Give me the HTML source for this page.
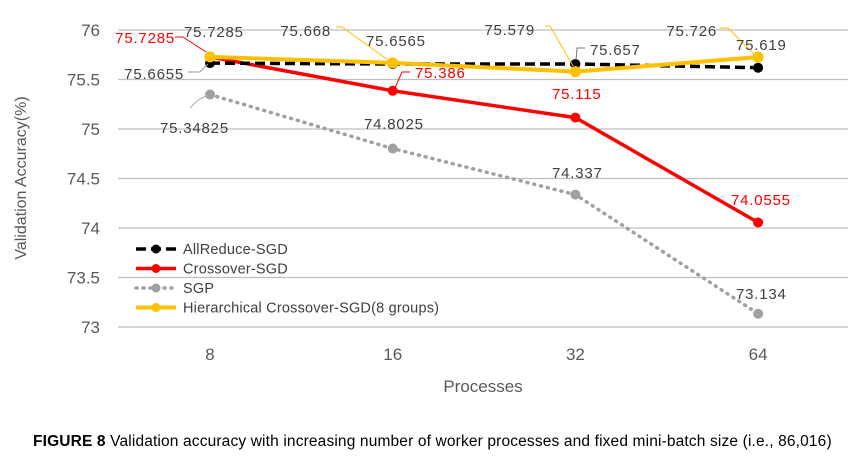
<!DOCTYPE html>
<html><head><meta charset="utf-8"><style>
body{margin:0;background:#fff;width:862px;height:469px;overflow:hidden;font-family:"Liberation Sans",sans-serif}
svg text{font-family:"Liberation Sans",sans-serif}
</style></head><body>
<svg id="chart" width="862" height="469" viewBox="0 0 862 469"></svg>
<script>
const categories=["8","16","32","64"];
const yTicks=[73,73.5,74,74.5,75,75.5,76];
const allReduce=[75.6655,75.6565,75.657,75.619];
const crossover=[75.7285,75.386,75.115,74.0555];
const sgp=[75.34825,74.8025,74.337,73.134];
const hier=[75.7285,75.668,75.579,75.726];
const allReduceLabels=["75.6655","75.6565","75.657","75.619"];
const crossoverLabels=["75.7285","75.386","75.115","74.0555"];
const sgpLabels=["75.34825","74.8025","74.337","73.134"];
const hierLabels=["75.7285","75.668","75.579","75.726"];

const NS="http://www.w3.org/2000/svg";
const svg=document.getElementById('chart');
function el(t,a,p){const e=document.createElementNS(NS,t);for(const k in a)e.setAttribute(k,a[k]);(p||svg).appendChild(e);return e;}
function x(i){return 210+i*182.7;}
function y(v){return 327-(v-73)*99;}

yTicks.forEach(v=>{
  const g=el('line',{x1:118,x2:848,y1:y(v),y2:y(v),stroke:'#bfbfbf','stroke-width':1.3});
  
  
  const t=el('text',{x:100,y:y(v)+6,'text-anchor':'end','font-size':17,fill:'#595959'});
  t.textContent=v;
  
  
});
categories.forEach((c,i)=>{
  const t=el('text',{x:x(i),y:360,'text-anchor':'middle','font-size':17,fill:'#595959'});
  t.textContent=c;
  
  
});
const yt=el('text',{transform:'translate(26,178) rotate(-90)','text-anchor':'middle','font-size':16,fill:'#595959'});
yt.textContent='Validation Accuracy(%)';


const xt=el('text',{x:483,y:392,'text-anchor':'middle','font-size':17,fill:'#595959'});
xt.textContent='Processes';



function series(vals,color,w,dash,r,name){
  const p=el('polyline',{points:vals.map((v,i)=>x(i)+','+y(v)).join(' '),fill:'none',stroke:color,'stroke-width':w,'stroke-dasharray':dash||'none','stroke-linecap':dash==='1 6'?'round':'butt'});
  
  
  vals.forEach((v,i)=>{
    const c=el('circle',{cx:x(i),cy:y(v),r:r,fill:color});
    
    
  });
}
series(sgp,'#a0a0a0',3.5,'1 6',5,'sgp');
series(crossover,'#ff0000',3.5,null,5,'crossover-sgd');
series(allReduce,'#000000',3.5,'10 5',5,'allreduce-sgd');
series(hier,'#ffc000',4,null,5.5,'hierarchical-crossover-sgd');

function label(txt,lx,ly,color,anchor){
  const t=el('text',{x:lx,y:ly,'font-size':15,'letter-spacing':0.8,fill:color,'text-anchor':anchor||'start'});
  t.textContent=txt;
  
  
}
el('polyline',{points:'175,37 183,37 206,52',fill:'none',stroke:'#ff0000','stroke-width':1});
el('polyline',{points:'188,72 200,72 208,64',fill:'none',stroke:'#999','stroke-width':1});
el('polyline',{points:'190,108 198,100 208,95',fill:'none',stroke:'#aaa','stroke-width':1});
el('polyline',{points:'336,27 342,27 388,60',fill:'none',stroke:'#ffc000','stroke-width':1});
el('polyline',{points:'410,72 402,72 395,88',fill:'none',stroke:'#ff0000','stroke-width':1});
el('polyline',{points:'545,26 550,26 573,66',fill:'none',stroke:'#ffc000','stroke-width':1});
el('polyline',{points:'585,48 577,48 576,60',fill:'none',stroke:'#777','stroke-width':1});
el('polyline',{points:'720,28 728,28 755,55',fill:'none',stroke:'#ffc000','stroke-width':1});

label(crossoverLabels[0],175,43,'#ff0000','end');
label(hierLabels[0],184,37,'#404040');
label(allReduceLabels[0],184,79,'#404040','end');
label(sgpLabels[0],160,133,'#404040');
label(hierLabels[1],331,36,'#404040','end');
label(allReduceLabels[1],366,46,'#404040');
label(crossoverLabels[1],415,78,'#ff0000');
label(sgpLabels[1],364,129,'#404040');
label(hierLabels[2],535,35,'#404040','end');
label(allReduceLabels[2],590,55,'#404040');
label(crossoverLabels[2],552,99,'#ff0000');
label(sgpLabels[2],552,178,'#404040');
label(hierLabels[3],717,36,'#404040','end');
label(allReduceLabels[3],736,50,'#404040');
label(crossoverLabels[3],731,205,'#ff0000');
label(sgpLabels[3],736,299,'#404040');

const legend=[["AllReduce-SGD",'#000','10 5',3.5],["Crossover-SGD",'#ff0000',null,3.5],["SGP",'#a0a0a0','1 6',3.5],["Hierarchical Crossover-SGD(8 groups)",'#ffc000',null,4]];
legend.forEach((L,i)=>{
  const ly=249+i*19.5;
  const g=el('g',{});
  
  
  el('line',{x1:136,x2:176,y1:ly,y2:ly,stroke:L[1],'stroke-width':L[3],'stroke-dasharray':L[2]||'none','stroke-linecap':L[2]==='1 6'?'round':'butt'},g);
  el('circle',{cx:156,cy:ly,r:4.5,fill:L[1]},g);
  const t=el('text',{x:183,y:ly+5,'font-size':14.5,'letter-spacing':0.2,fill:'#404040'},g);
  t.textContent=L[0];
});

const cap=el('text',{x:33,y:446,'font-size':15.5,'letter-spacing':0.15,fill:'#000'});


const b=el('tspan',{'font-weight':'bold'},cap);b.textContent='FIGURE 8';
const r=el('tspan',{},cap);r.textContent=' Validation accuracy with increasing number of worker processes and fixed mini-batch size (i.e., 86,016)';
</script>
</body></html>
